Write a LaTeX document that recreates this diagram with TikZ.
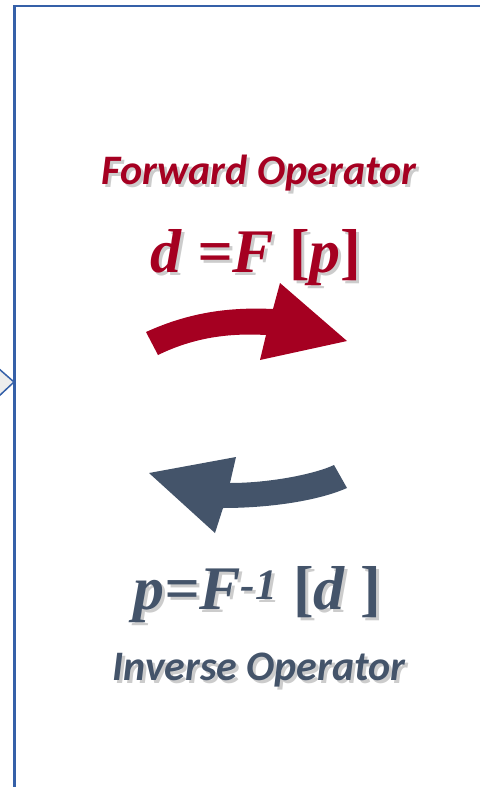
\documentclass[tikz,border=0pt]{standalone}
\usepackage{fontspec}
\setmainfont{Liberation Serif}
\newfontfamily\carlito{Carlito}
\definecolor{fwdred}{HTML}{A50021}
\definecolor{invblue}{HTML}{44546A}
\definecolor{frameblue}{HTML}{3560A8}
\definecolor{shadowgray}{HTML}{808080}
\newcommand\ubr[1]{{\upshape #1}}
\begin{document}
\begin{tikzpicture}[x=1pt,y=-1pt,
  lbl/.style={anchor=base,inner sep=0pt,font=\carlito\bfseries\itshape\fontsize{42}{42}\selectfont},
  eqn/.style={anchor=base,inner sep=0pt,font=\bfseries\itshape\fontsize{62}{62}\selectfont},
  shd/.style={text=shadowgray,opacity=0.4},
  framel/.style={draw=frameblue,line width=2.5pt},
]
\useasboundingbox (0,0) rectangle (480,787);
% frame
\draw[framel] (14.5,787) -- (14.5,6) -- (480,6);
\draw[draw=frameblue,fill=black!7,line width=1.5pt] (-2,368) -- (14,382) -- (-2,397);
% forward
\node[lbl,shd] (fwdS) at (262,187) {Forward Operator};
\node[lbl,text=fwdred] (fwd) at (259,184) {Forward Operator};
\node[eqn,shd] (feqS) at (259,275) {d =F \ubr{[}p\ubr{]}};
\node[eqn,text=fwdred] (feq) at (256,272) {d =F \ubr{[}p\ubr{]}};
% forward arrow
\fill[fwdred] (146,332) .. controls (190,312) and (230,307) .. (273,309)
  -- (280,283) -- (347,341) -- (260,360) -- (266,335)
  .. controls (230,333) and (195,337) .. (158,355) -- cycle;
% inverse arrow
\fill[invblue] (334,465) .. controls (315,474) and (270,483) .. (230,483)
  -- (236,457) -- (149,473) -- (215,533) -- (223,508)
  .. controls (265,508) and (315,502) .. (347,488) -- cycle;
% inverse
\node[eqn,shd] (ieqS) at (260,612) {p=F\textsuperscript{-1} \ubr{[}d \ubr{]}};
\node[eqn,text=invblue] (ieq) at (257,609) {p=F\textsuperscript{-1} \ubr{[}d \ubr{]}};
\node[lbl,shd] (invS) at (262,683) {Inverse Operator};
\node[lbl,text=invblue] (inv) at (259,680) {Inverse Operator};
\end{tikzpicture}
\end{document}
